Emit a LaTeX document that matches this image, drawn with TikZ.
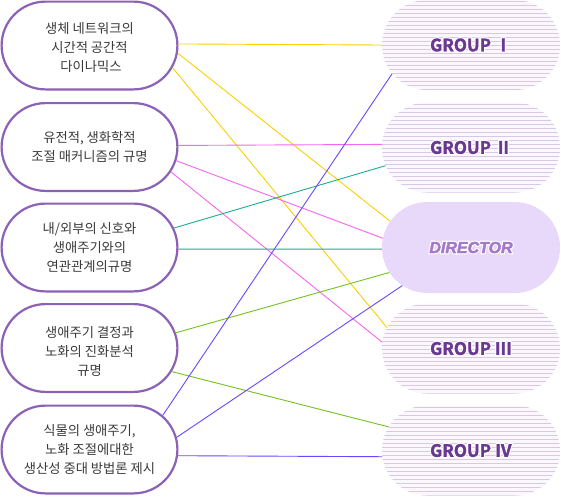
\documentclass[tikz,border=0pt]{standalone}
\usepackage{fontspec}
\setmainfont{Noto Sans CJK KR}
\newfontfamily\krfont{Noto Sans CJK KR}
\newfontfamily\groupfont[FakeBold=2]{Noto Sans CJK KR Bold}
\newfontfamily\grouphalofont[FakeBold=15]{Noto Sans CJK KR Bold}
\newfontfamily\dirfont[FakeBold=2.5]{Liberation Sans Bold Italic}
\newfontfamily\dirhalofont[FakeBold=16]{Liberation Sans Bold Italic}
\usetikzlibrary{shapes.misc}
\definecolor{edgepurple}{HTML}{8B62B6}
\definecolor{textgray}{HTML}{3A3A3A}
\definecolor{stripecol}{HTML}{D8C8E6}
\definecolor{stripebg}{HTML}{FBF8FD}
\definecolor{grouptext}{HTML}{6B3891}
\definecolor{dirfill}{HTML}{E8D8FA}
\definecolor{dirtext}{HTML}{A47AC8}
\definecolor{lnyellow}{HTML}{FCD000}
\definecolor{lnpink}{HTML}{F766F0}
\definecolor{lnteal}{HTML}{1BAE8C}
\definecolor{lngreen}{HTML}{74C21C}
\definecolor{lnblue}{HTML}{6A47FF}
\newcommand{\haloText}[3]{%
  \leavevmode
  \rlap{#1\textcolor{white}{#3}}%
  \textcolor{#2}{#3}}
\newcommand{\lefttext}[2]{%
  \raisebox{-#1}[\height][\depth]{\begin{tabular}{@{}c@{}}#2\end{tabular}}}
\begin{document}
\begin{tikzpicture}[x=1pt,y=-1pt,
  leftbox/.style={rounded rectangle, draw=edgepurple, line width=2.2pt,
    minimum width=175.8pt, minimum height=87.8pt, inner sep=0pt,
    align=center, text=textgray,
    font=\krfont\fontsize{13.3}{19}\selectfont},
  groupbox/.style={rounded rectangle, minimum width=178pt, minimum height=90pt,
    inner sep=0pt, fill=stripebg,
    path picture={\foreach \k in {0,...,23}{
      \draw[stripecol, line width=1pt]
        ([yshift={-(1.5+4*\k)*1pt}]path picture bounding box.north west) --
        ([yshift={-(1.5+4*\k)*1pt}]path picture bounding box.north east);}},
    font=\groupfont\fontsize{17}{20}\selectfont},
  dirbox/.style={rounded rectangle, minimum width=178pt, minimum height=91pt,
    inner sep=0pt, fill=dirfill,
    font=\dirfont\fontsize{16}{20}\selectfont},
  conn/.style={line width=0.9pt}
]
\useasboundingbox[fill=white] (0,0) rectangle (561,496);

% left boxes
\node[leftbox] (L1) at (89.5,45.5) {\lefttext{3.5pt}{생체 네트워크의\\시간적 공간적\\\hspace{3pt}다이나믹스}};
\node[leftbox] (L2) at (89.5,147) {\lefttext{1pt}{유전적, 생화학적\\조절 매커니즘의 규명}};
\node[leftbox] (L3) at (89.5,247.5) {\lefttext{1.2pt}{내/외부의 신호와\\생애주기와의\\연관관계의규명}};
\node[leftbox] (L4) at (89.5,348) {\lefttext{4.5pt}{생애주기 결정과\\노화의 진화분석\\규명}};
\node[leftbox] (L5) at (89.5,449.5) {\lefttext{1.5pt}{식물의 생애주기,\\노화 조절에대한\\생산성 중대 방법론 제시}};

% right boxes
\node[groupbox] (R1) at (471,45) {\haloText{\grouphalofont}{grouptext}{GROUP Ⅰ}};
\node[groupbox] (R2) at (471,147.5) {\haloText{\grouphalofont}{grouptext}{GROUP Ⅱ}};
\node[dirbox] (R3) at (471,247.5) {\haloText{\dirhalofont}{dirtext}{DIRECTOR}};
\node[groupbox] (R4) at (471,348.5) {\haloText{\grouphalofont}{grouptext}{GROUP Ⅲ}};
\node[groupbox] (R5) at (471,450.5) {\haloText{\grouphalofont}{grouptext}{GROUP Ⅳ}};

% connectors
\draw[conn, lnyellow] (L1.1) -- (R1.180);
\draw[conn, lnyellow] (L1.355) -- (R3.162);
\draw[conn, lnyellow] (L1.345) -- (R4.166);
\draw[conn, lnpink] (L2.1) -- (R2.178);
\draw[conn, lnpink] (L2.351) -- (R3.174);
\draw[conn, lnpink] (L2.343) -- (R4.176);
\draw[conn, lnteal] (L3.13) -- (R2.192);
\draw[conn, lnteal] (L3.359) -- (R3.181);
\draw[conn, lngreen] (L4.10) -- (R3.197);
\draw[conn, lngreen] (L4.344) -- (R5.164);
\draw[conn, lnblue] (L5.25) -- (R1.200);
\draw[conn, lnblue] (L5.8) -- (R3.209);
\draw[conn, lnblue] (L5.356) -- (R5.184);
\end{tikzpicture}
\end{document}
